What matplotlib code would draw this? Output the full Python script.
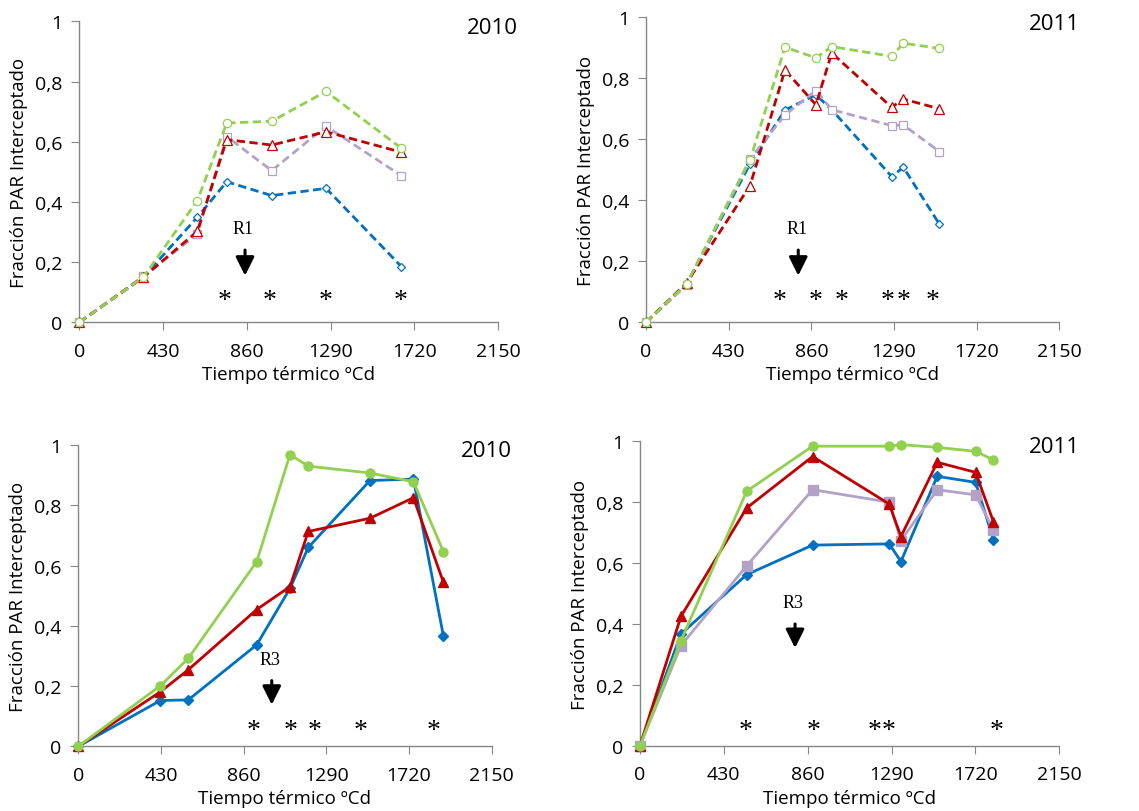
import matplotlib
matplotlib.use("Agg")
import matplotlib.pyplot as plt

# ---------------- data ----------------
# Top-left 2010 (dashed, hollow markers)
x10a = [0, 329, 606, 757, 988, 1267, 1654]
g10a = [0, 0.150, 0.404, 0.662, 0.668, 0.767, 0.578]
r10a = [0, 0.150, 0.302, 0.607, 0.589, 0.633, 0.565]
p10a = [0, 0.153, 0.293, 0.617, 0.504, 0.651, 0.487]
b10a = [0, 0.150, 0.349, 0.467, 0.421, 0.445, 0.185]
stars10a = [748, 979, 1267, 1650]

# Top-right 2011
x11a = [0, 211, 541, 723, 884, 966, 1278, 1339, 1526]
g11a = [0, 0.126, 0.532, 0.902, 0.867, 0.904, 0.872, 0.915, 0.898]
r11a = [0, 0.129, 0.448, 0.827, 0.713, 0.883, 0.705, 0.732, 0.700]
p11a = [0, 0.122, 0.535, 0.680, 0.760, 0.697, 0.645, 0.647, 0.560]
b11a = [0, 0.125, 0.519, 0.696, 0.746, 0.697, 0.478, 0.508, 0.322]
stars11a = [697, 884, 1018, 1255, 1339, 1491]

# Bottom-left 2010 (solid, filled markers)
x10b = [0, 427, 572, 928, 1101, 1196, 1517, 1743, 1899]
g10b = [0, 0.201, 0.292, 0.613, 0.968, 0.930, 0.907, 0.878, 0.646]
r10b = [0, 0.181, 0.254, 0.454, 0.530, 0.713, 0.757, 0.825, 0.544]
b10b = [0, 0.152, 0.154, 0.337, 0.524, 0.660, 0.882, 0.887, 0.365]
stars10b = [914, 1104, 1231, 1469, 1847]

# Bottom-right 2011
x11b = [0, 210, 547, 885, 1278, 1338, 1524, 1721, 1812]
g11b = [0, 0.345, 0.836, 0.984, 0.984, 0.989, 0.980, 0.967, 0.939]
r11b = [0, 0.425, 0.781, 0.950, 0.794, 0.687, 0.931, 0.898, 0.736]
p11b = [0, 0.329, 0.591, 0.841, 0.800, 0.674, 0.841, 0.824, 0.709]
b11b = [0, 0.367, 0.562, 0.659, 0.663, 0.605, 0.885, 0.865, 0.677]
stars11b = [542, 889, 1205, 1273, 1829]

xticks = [0, 430, 860, 1290, 1720, 2150]
yticks = [0, 0.2, 0.4, 0.6, 0.8, 1.0]
ytick_labels = ["0", "0,2", "0,4", "0,6", "0,8", "1"]

GREEN = "#92D050"
RED = "#C00000"
PURPLE = "#B3A2C7"
BLUE = "#0070C0"
SPINE = "#868686"

W, H = 1139, 812
fig = plt.figure(figsize=(W / 100, H / 100), dpi=100)
plt.rcParams['font.family'] = ['Open Sans', 'DejaVu Sans']


def add_axes(left, right, top, bottom):
    return fig.add_axes([left / W, 1 - bottom / H, (right - left) / W, (bottom - top) / H])


panels = [
    dict(box=(79.3, 498, 22.3, 323.3), x=x10a,
         series=[(b10a, BLUE, 'D'), (p10a, PURPLE, 's'), (r10a, RED, '^'), (g10a, GREEN, 'o')],
         dashed=True, stars=stars10a, star_y=0.072, label="R1", lab=(842, 0.31), arrow=(851, 0.24, 0.155),
         year="2010", year_pos=(518, 29)),
    dict(box=(646, 1059.3, 18.3, 323.3), x=x11a,
         series=[(b11a, BLUE, 'D'), (p11a, PURPLE, 's'), (r11a, RED, '^'), (g11a, GREEN, 'o')],
         dashed=True, stars=stars11a, star_y=0.071, label="R1", lab=(784, 0.306), arrow=(792, 0.237, 0.153),
         year="2011", year_pos=(1080, 25)),
    dict(box=(78.3, 491.7, 446, 747.3), x=x10b,
         series=[(b10b, BLUE, 'D'), (r10b, RED, '^'), (g10b, GREEN, 'o')],
         dashed=False, stars=stars10b, star_y=0.052, label="R3", lab=(997, 0.288), arrow=(1006, 0.218, 0.138),
         year="2010", year_pos=(512, 452)),
    dict(box=(640, 1059.3, 442.3, 746.7), x=x11b,
         series=[(b11b, BLUE, 'D'), (p11b, PURPLE, 's'), (r11b, RED, '^'), (g11b, GREEN, 'o')],
         dashed=False, stars=stars11b, star_y=0.049, label="R3", lab=(786, 0.471), arrow=(795, 0.40, 0.321),
         year="2011", year_pos=(1080, 448)),
]

for p in panels:
    ax = add_axes(*p['box'])
    for ys, col, mk in p['series']:
        if p['dashed']:
            ms = {'o': 6, 's': 6, '^': 7, 'D': 4.5}[mk]
            ax.plot(p['x'], ys, color=col, lw=2.0, ls=(0, (3, 1.6)), marker=mk, ms=ms,
                    mfc='white', mec=col, mew=0.9, clip_on=False, zorder=3)
        else:
            ms = {'o': 6.5, 's': 6.5, '^': 7.5, 'D': 5}[mk]
            ax.plot(p['x'], ys, color=col, lw=2.0, marker=mk, ms=ms,
                    mfc=col, mec=col, clip_on=False, zorder=3)
    for sx in p['stars']:
        ax.text(sx, p['star_y'], "*", family='Liberation Serif', fontsize=20,
                ha='center', va='center')
    ax.text(p['lab'][0], p['lab'][1], p['label'], family='Liberation Serif', fontsize=13,
            ha='center', va='center')
    ax.annotate("", xy=(p['arrow'][0], p['arrow'][2]), xytext=(p['arrow'][0], p['arrow'][1]),
                arrowprops=dict(arrowstyle='-|>,head_width=0.4,head_length=0.8', mutation_scale=14,
                                color='black', lw=2.2, shrinkA=0, shrinkB=0))
    ax.set_xlim(0, 2150)
    ax.set_ylim(0, 1)
    ax.set_xticks(xticks)
    ax.set_xticklabels([str(t) for t in xticks])
    ax.set_yticks(yticks)
    ax.set_yticklabels(ytick_labels)
    for s in ['top', 'right']:
        ax.spines[s].set_visible(False)
    for s in ['left', 'bottom']:
        ax.spines[s].set_color(SPINE)
        ax.spines[s].set_linewidth(1.0)
    ax.tick_params(direction='out', length=6, color=SPINE, labelsize=14, pad=6)
    ax.tick_params(axis='x', pad=8)
    ax.set_xlabel("Tiempo térmico ºCd", fontsize=13.5, labelpad=4)
    ax.set_ylabel("Fracción PAR Interceptado", fontsize=13.5, labelpad=5)
    ax.patch.set_alpha(0)
    fig.text(p['year_pos'][0] / W, 1 - p['year_pos'][1] / H, p['year'], fontsize=16,
             ha='right', va='center')

fig.savefig("out.png", dpi=100)
